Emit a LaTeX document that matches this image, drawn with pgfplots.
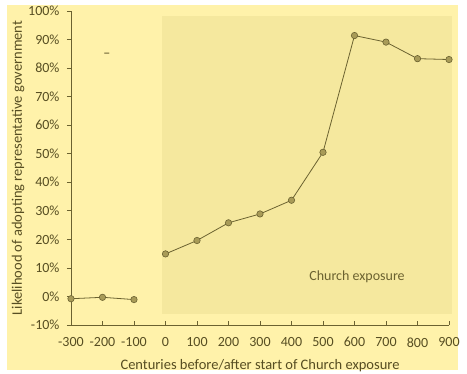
\documentclass[border=0pt]{standalone}
\usepackage{fontspec}
\setmainfont{Carlito}
\usepackage{pgfplots}
\pgfplotsset{compat=1.18}
\definecolor{bgy}{HTML}{FFF2AA}
\definecolor{shadecol}{HTML}{F5E89E}
\definecolor{txt}{HTML}{574E22}
\definecolor{ln}{HTML}{6B6230}
\definecolor{mk}{HTML}{A89B58}
\begin{document}
\begin{tikzpicture}[font=\fontsize{14pt}{16pt}\selectfont]
\useasboundingbox (-71pt,-49pt) rectangle (396pt,325pt);
\fill[white] (-71pt,-49pt) rectangle (396pt,325pt);
\fill[bgy] (-64pt,-45pt) rectangle (387pt,320pt);
\begin{axis}[
 at={(0pt,0pt)}, anchor=south west,
 scale only axis, width=378pt, height=314pt,
 xmin=-300, xmax=900, ymin=-10, ymax=100,
 axis lines=left, axis line style={-, draw=ln, line width=0.8pt},
 clip=false,
 xtick={-300,-200,...,900}, ytick={-10,0,...,100},
 tick align=inside, major tick length=4pt,
 tick style={draw=ln, line width=0.8pt},
 y tick style={xshift=-4pt},
 /pgf/number format/assume math mode=true,
 /pgf/number format/1000 sep={},
 yticklabel={\pgfmathprintnumber{\tick}\%},
 ticklabel style={text=txt, font=\fontsize{14pt}{16pt}\selectfont},
 xticklabel style={yshift=-9pt},
 yticklabel style={xshift=-8pt},
 xlabel={Centuries before/after start of Church exposure},
 ylabel={Likelihood of adopting representative government},
 label style={text=txt, font=\fontsize{14.5pt}{16pt}\selectfont},
 xlabel style={at={([yshift=-41pt]axis description cs:0.5,0)}, anchor=center},
 ylabel style={at={([xshift=-53pt]axis description cs:0,0.5)}, anchor=center},
]
\fill[shadecol] (axis cs:-10,-6) rectangle (axis cs:910,98.4);
\node[text=ln, font=\fontsize{14pt}{16pt}\selectfont] at (axis cs:608,6.8) {Church exposure};
\node[text=txt] at (axis cs:-186,84.4) {–};
\addplot[ln, line width=0.8pt, mark=*, mark size=3.2pt, mark options={fill=mk, draw=ln, line width=0.6pt}]
 coordinates {(-300,-0.8) (-200,-0.3) (-100,-1.1)};
\addplot[ln, line width=0.8pt, mark=*, mark size=3.2pt, mark options={fill=mk, draw=ln, line width=0.6pt}]
 coordinates {(0,14.9) (100,19.6) (200,25.8) (300,28.9) (400,33.7) (500,50.5) (600,91.4) (700,89.1) (800,83.3) (900,83.0)};
\end{axis}
\end{tikzpicture}
\end{document}
